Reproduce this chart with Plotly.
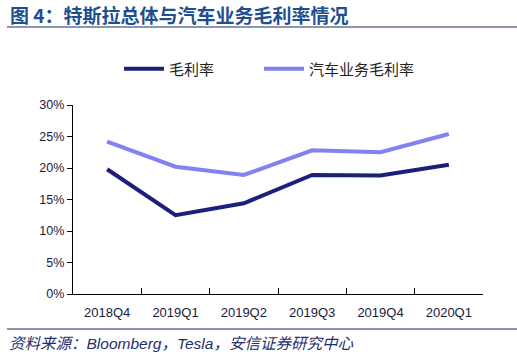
import plotly.graph_objects as go

categories = ["2018Q4", "2019Q1", "2019Q2", "2019Q3", "2019Q4", "2020Q1"]
gross_margin = [19.8, 12.5, 14.4, 18.9, 18.8, 20.5]
auto_gross_margin = [24.2, 20.2, 18.9, 22.8, 22.5, 25.4]
y_ticks = [0, 5, 10, 15, 20, 25, 30]
y_tick_labels = ["0%", "5%", "10%", "15%", "20%", "25%", "30%"]

W, H = 517, 357
L, R, T, B = 73, 34, 105, 63

fig = go.Figure()
fig.add_trace(go.Scatter(x=categories, y=gross_margin, mode="lines", name="毛利率",
                         line=dict(color="#1c1f7c", width=4), legend="legend"))
fig.add_trace(go.Scatter(x=categories, y=auto_gross_margin, mode="lines", name="汽车业务毛利率",
                         line=dict(color="#8282f2", width=4), legend="legend2"))

cjk = "Liberation Sans, Noto Sans CJK SC, sans-serif"

def px_x(p):
    return (p - L) / (W - L - R)

def px_y(p):
    return (H - B - p) / (H - T - B)

legend_font = dict(size=15, family="Noto Sans CJK SC, sans-serif", color="#222222")

fig.update_layout(
    width=W, height=H,
    margin=dict(l=L, r=R, t=T, b=B, autoexpand=False),
    paper_bgcolor="white", plot_bgcolor="white",
    font=dict(family=cjk, size=12, color="#000000"),
    showlegend=True,
    legend=dict(orientation="h", x=px_x(119), y=px_y(69), xanchor="left", yanchor="middle",
                font=legend_font, itemwidth=40, bgcolor="rgba(0,0,0,0)"),
    legend2=dict(orientation="h", x=px_x(259), y=px_y(69), xanchor="left", yanchor="middle",
                 font=legend_font, itemwidth=40, bgcolor="rgba(0,0,0,0)"),
    xaxis=dict(type="category", range=[-0.5, 5.5], automargin=False,
               showline=True, linecolor="#000000", linewidth=1.3,
               ticks="inside", tickson="boundaries", ticklen=6, tickcolor="#000000",
               showgrid=False, zeroline=False, ticklabelstandoff=6,
               tickfont=dict(size=13, color="#1a1a3a", family="Liberation Sans, Arial")),
    yaxis=dict(range=[0, 30], tickvals=y_ticks, ticktext=y_tick_labels, automargin=False,
               showline=True, linecolor="#000000", linewidth=1.3,
               ticks="outside", ticklen=5, tickcolor="#000000",
               showgrid=False, zeroline=False,
               tickfont=dict(size=12.5, color="#1a1a3a", family="Liberation Sans, Arial")),
    shapes=[
        dict(type="line", xref="paper", yref="paper", x0=px_x(7), x1=px_x(517),
             y0=px_y(27), y1=px_y(27), line=dict(color="#1f2f5f", width=1.2)),
        dict(type="line", xref="paper", yref="paper", x0=px_x(7), x1=px_x(517),
             y0=px_y(329), y1=px_y(329), line=dict(color="#1f2f5f", width=1.2)),
    ],
    annotations=[
        dict(text="<b>图 4：特斯拉总体与汽车业务毛利率情况</b>", xref="paper", yref="paper",
             x=px_x(8), y=px_y(14), xanchor="left", yanchor="middle", showarrow=False,
             font=dict(size=19, color="#1f4f8f", family="Noto Sans CJK SC, sans-serif")),
        dict(text="<i>资料来源：Bloomberg，Tesla，安信证券研究中心</i>", xref="paper", yref="paper",
             x=px_x(7), y=px_y(343), xanchor="left", yanchor="middle", showarrow=False,
             font=dict(size=15.5, color="#1f2f6f", family="Liberation Sans, Noto Sans CJK SC, sans-serif")),
    ],
)

fig.write_html("out.html", config={"displayModeBar": False},
               post_script="document.body.style.margin='0';")
